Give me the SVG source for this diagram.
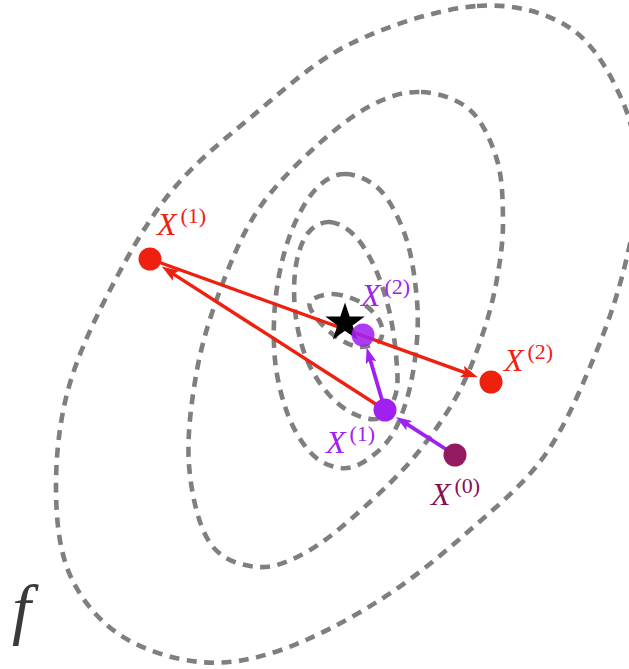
<svg xmlns="http://www.w3.org/2000/svg" width="629" height="669" viewBox="0 0 629 669">
<style>
.lvl{fill:none;stroke:#7f7f7f;stroke-width:4.6;stroke-dasharray:10 7.5}
.lab{font-family:"Liberation Serif","DejaVu Serif",serif;font-size:32px}
.x{font-style:italic}
.sup{font-size:22px}
.red{fill:#EE2010}
.pur{fill:#A020F0}
.mag{fill:#931A60}
</style>
<defs>
<marker id="ar" viewBox="0 0 17 12" refX="10" refY="6" markerWidth="17" markerHeight="12" markerUnits="userSpaceOnUse" orient="auto">
<path d="M0,0 L17,6 L0,12 L3.5,6 z" fill="#EE2010"/>
</marker>
<marker id="ap" viewBox="0 0 16 11" refX="9" refY="5.5" markerWidth="16" markerHeight="11" markerUnits="userSpaceOnUse" orient="auto">
<path d="M0,0 L16,5.5 L0,11 L3.5,5.5 z" fill="#A020F0"/>
</marker>
</defs>
<rect width="629" height="669" fill="#ffffff"/>
<g id="levels">
<path class="lvl" d="M477,6 C513.7,3.3 545.8,12.3 570,28 S610.7,74.7 622,100 S637.5,152.5 638,180 S632.2,235.8 625,265 S608.3,323.3 595,355 S565.8,425.8 545,455 S497.5,505.8 470,530 S411.5,580 380,600 S311,639.7 281,650 S226.8,664.5 200,662 S141.7,649.5 120,635 S80.7,599.2 70,575 S56.3,520.8 56,490 S59,423.3 68,390 S93,322.8 110,290 S146.7,221.7 170,193 S220,142.8 250,118 S312.2,62.7 350,44 S440.3,8.7 477,6 Z"/>
<path class="lvl" d="M421,92 C437.7,92.7 457.3,98.7 470,110 S491.5,141.7 497,160 S502.8,201.2 503,220 S501,255.2 498,273 S491.3,307.5 485,327 S470.8,369.5 460,390 S435,431.3 420,450 S388.3,485.3 370,502 S328.7,539.2 310,550 S274.7,568.2 258,567 S221.5,560 210,543 S191.2,493.8 189,465 S191.5,400 197,370 S211.8,311.7 222,285 S243,232.5 258,210 S293.3,167.3 312,150 S351.8,115.7 370,106 S404.3,91.3 421,92 Z"/>
<path class="lvl" d="M345,174 C355.8,174 370,180 380,190 S399,218.3 405,235 S414,272.5 416,290 S418.3,322.5 417,340 S412.5,378.7 408,395 S398,426.5 390,438 S369.2,459.2 360,464 S343.3,469 335,467 S317.8,460.7 310,452 S293.8,430.3 288,415 S277,380 275,360 S273.5,315.8 276,295 S283.5,252.5 290,235 S305.8,200.2 315,190 S334.2,174 345,174 Z"/>
<path class="lvl" d="M330,222 C337.8,222.5 347.5,228.3 355,236 S369.3,255.7 375,268 S385.5,295.5 389,310 S394.8,341.2 396,355 S398.7,382.5 396,393 S387.3,414.7 380,418 S361.2,417.7 352,413 S332.8,399.7 325,390 S310,368.3 305,355 S296.5,325 295,310 S293.8,277.8 296,265 S302.3,240.2 308,233 S322.2,221.5 330,222 Z"/>
<path class="lvl" d="M333,294 C341.7,294.2 354.2,298.3 362,303 S377,315.8 380,322 S383.3,335.8 380,340 S367,347.3 360,347 S345,342.5 338,338 S322.7,326 318,320 S307.5,306.3 310,302 S324.3,293.8 333,294 Z"/>
</g>
<g id="connectors" fill="none" stroke-linecap="butt">
<line x1="150" y1="259" x2="471.3" y2="374.8" stroke="#EE2010" stroke-width="3.4" marker-end="url(#ar)"/>
<line x1="385" y1="410" x2="167.7" y2="270.4" stroke="#EE2010" stroke-width="3.4" marker-end="url(#ar)"/>
<line x1="455" y1="455" x2="401.9" y2="420.9" stroke="#A020F0" stroke-width="3.8" marker-end="url(#ap)"/>
<line x1="385" y1="410" x2="368.6" y2="354.2" stroke="#A020F0" stroke-width="3.8" marker-end="url(#ap)"/>
</g>
<g id="optimum">
<polygon points="345,302.5 349.7,316.6 364.7,316.6 352.6,325.4 357.2,339.6 345,330.8 332.8,339.6 337.4,325.4 325.3,316.6 340.3,316.6" fill="#000000"/>
</g>
<g id="red-x1">
<circle cx="150" cy="259" r="11.5" class="red"/>
<text class="lab red" x="157" y="235"><tspan class="x">X</tspan><tspan class="sup" dx="4" dy="-12">(1)</tspan></text>
</g>
<g id="red-x2">
<circle cx="491" cy="382" r="11.5" class="red"/>
<text class="lab red" x="504" y="371"><tspan class="x">X</tspan><tspan class="sup" dx="4" dy="-12">(2)</tspan></text>
</g>
<g id="purple-x1">
<circle cx="385" cy="410" r="11.5" class="pur"/>
<text class="lab pur" x="326" y="453"><tspan class="x">X</tspan><tspan class="sup" dx="4" dy="-12">(1)</tspan></text>
</g>
<g id="purple-x2">
<circle cx="363" cy="335" r="11.5" class="pur" fill-opacity="0.88"/>
<text class="lab pur" x="361" y="306"><tspan class="x">X</tspan><tspan class="sup" dx="4" dy="-12">(2)</tspan></text>
</g>
<g id="x0">
<circle cx="455" cy="455" r="11.5" class="mag"/>
<text class="lab" fill="#85124F" x="431" y="505"><tspan class="x">X</tspan><tspan class="sup" dx="4" dy="-12">(0)</tspan></text>
</g>
<g id="f-label">
<text x="12" y="632" font-family="'Liberation Serif','DejaVu Serif',serif" font-style="italic" font-size="68" fill="#3a3a3a">f</text>
</g>
</svg>
